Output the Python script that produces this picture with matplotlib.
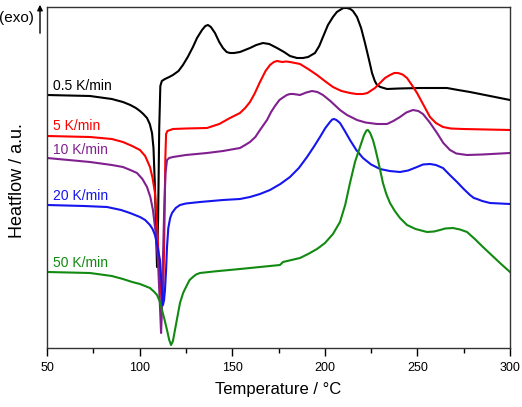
import matplotlib
matplotlib.use("Agg")
import matplotlib.pyplot as plt
import matplotlib.patches as mpatches

plt.rcParams['font.family'] = ['Liberation Sans', 'DejaVu Sans']

# Heat-flow curves (temperature in °C, heat flow in a.u.)
t_05 = [50, 73.2, 85, 91, 95, 98, 100.2, 102, 104, 105.5, 106.7, 107.5, 108.3, 109, 109.4, 110, 110.6,
        111.2, 112, 113.7, 116, 118, 121, 123.4, 126, 128.8, 131, 133.7, 135.5, 136.9, 138.5, 140.7,
        143, 145, 147, 148.8, 151, 154.2, 159.6, 163, 166.6, 170, 174.2, 178, 181.2, 185, 188.2, 191,
        194.7, 197, 199, 201.7, 204.4, 206.5, 208.2, 210, 212, 213.8, 215.2, 217.4, 219.6, 221.7,
        223.9, 225.5, 227, 228.2, 230, 233.6, 240, 251.4, 260, 266, 272, 278.4, 289.2, 300]
hf_05 = [253, 252, 249, 246, 243, 240, 237, 234, 230, 224, 215, 200, 160, 110, 81, 130, 220,
         262, 267, 269, 271, 273, 277, 283, 291, 301, 310, 318, 322, 323, 321, 315,
         306, 300, 296, 295, 295, 296, 300, 303, 305, 304, 300, 296, 292, 290, 290, 291,
         295, 302, 311, 323, 331, 336, 338, 340, 340, 339, 337, 331, 320, 305,
         288, 275, 267, 263, 261, 259, 259.5, 260, 260, 260, 258, 256, 252, 248]

t_5 = [50, 73.2, 85, 91, 96, 100.2, 103, 105.6, 107, 108.3, 109.2, 109.9, 111, 112.1, 112.8, 113.4,
       113.9, 114.3, 115, 118, 125, 136.4, 143, 148.8, 154.2, 157, 159.6, 162, 165, 168, 170.4, 172.5,
       174.2, 177, 179, 181.2, 184, 186.6, 191, 195.8, 200, 204.4, 209, 213.6, 217, 220.6, 223, 227.1,
       229.8, 232.5, 235.2, 237.5, 239.5, 242, 244.4, 247, 249.8, 253, 256.8, 260, 263.8, 268, 274.6, 300]
hf_5 = [212, 211, 209, 206, 202, 198, 192, 181, 170, 155, 130, 105, 70, 41, 60, 120,
        190, 214, 217, 219, 219.5, 220, 224, 230, 235, 240, 246, 254, 266, 277, 283, 286,
        287, 286, 286.5, 286, 285, 284, 279, 273, 267, 261, 257, 255, 254, 254, 255, 260,
        265, 270, 273, 275, 275, 273.5, 270, 263, 255, 244, 231, 225, 221, 219.5, 219, 218]

t_10 = [50, 73.2, 85, 91, 95, 98.6, 101.5, 104, 105.8, 107.2, 108.7, 109.9, 110.8, 111.6, 112.1, 112.6,
        113.3, 114, 114.8, 116, 118, 125, 136.4, 145, 154.2, 157, 159.6, 162.5, 165, 168.8, 171, 173.1,
        175.5, 177.4, 179.5, 181.2, 183, 186.6, 190, 193.1, 196, 199, 203, 208.2, 212, 217.4, 222,
        228.2, 233.6, 237, 240.6, 244, 247.6, 250.5, 253, 256.5, 260.6, 264, 267.6, 271, 276.8, 285, 300]
hf_10 = [190, 186, 183, 181, 178, 175, 169, 161, 151, 138, 115, 88, 50, 15, 40, 88,
         140, 175, 188, 190, 191, 193, 195, 197, 200, 203, 206, 211, 218, 228, 236, 242,
         248, 250.5, 253, 254, 254, 253, 255.5, 257, 256, 253, 247, 238, 233, 228, 225.5,
         224, 224, 227, 231, 235.5, 238, 237, 234, 226, 215, 205, 198, 194.5, 193, 193.5, 195]

t_20 = [50, 70, 82.4, 90, 94.8, 100.2, 103, 105.6, 107, 108.3, 109.8, 111, 112, 112.6, 113.2, 113.7,
        114.3, 114.8, 115.5, 116.5, 117.5, 119.5, 121.8, 125, 132.6, 145, 154.2, 159.6, 165, 170.4,
        176, 181.2, 186, 190.4, 194, 197.4, 200.3, 202.8, 204, 205, 206.3, 208.2, 210.5, 213.6, 217,
        220.6, 225, 229.8, 235, 240.6, 245, 249.8, 253, 256.8, 260, 263.8, 267.5, 271.4, 275, 278.4,
        280.5, 282.2, 285, 289.2, 300]
hf_20 = [143, 142, 141, 138, 135, 131, 128, 123, 119, 113, 100, 88, 60, 43, 48, 58,
         78, 101, 120, 130, 135, 140, 143, 144.5, 146, 148, 149, 151, 154, 158,
         164, 171, 180, 191, 201, 211, 220, 226, 228.5, 229, 228, 225, 218, 208, 198,
         190, 183.5, 179, 177, 176, 177.5, 181, 183.5, 184, 183, 180, 173, 166, 159, 153,
         150, 149, 147, 145, 144]

t_50 = [50, 73.2, 85, 91, 96, 100.2, 105.6, 108, 109.4, 110.8, 112.1, 113.5, 114.8, 116, 117, 118,
        119.1, 120.5, 121.8, 123.5, 125.6, 127, 128.8, 130.5, 132.6, 140, 154.2, 165, 175.8, 177.4,
        182, 186.6, 191, 195.8, 200.1, 204.4, 208.2, 211, 213.6, 216.3, 219, 221.2, 222.5, 223.3,
        224.5, 226, 227.3, 228.7, 230, 231.4, 233.2, 235.2, 237.8, 240.6, 244.4, 249, 255.2, 259,
        262.2, 265, 269.2, 273, 276.8, 281, 285.4, 290, 294.6, 300]
hf_50 = [76, 75, 72, 69, 66, 64, 60, 56, 53, 47, 38, 28, 18, 8, 3, 7,
         18, 32, 45, 55, 63, 68, 71, 73.5, 75, 76.5, 79, 81, 83, 86,
         88, 90, 94, 99, 105, 114, 126, 143, 165, 186, 201, 213, 217.5, 218,
         215, 208, 199, 188, 177, 165, 154, 145, 137, 130, 123, 119, 116, 116.5,
         118, 119.5, 120, 118.5, 116, 109, 101, 93, 85, 76]

labels = ['0.5 K/min', '5 K/min', '10 K/min', '20 K/min', '50 K/min']
label_y = [262, 222, 198, 152, 85]
colors = ['black', 'red', '#80208f', '#1515ee', '#128a12']
temps = [t_05, t_5, t_10, t_20, t_50]
flows = [hf_05, hf_5, hf_10, hf_20, hf_50]

fig = plt.figure(figsize=(5.22, 4.07), dpi=100)
ax = fig.add_axes([47/522, 1-348/407, 463/522, 341/407])

for t, hf, c, lab, ly in zip(temps, flows, colors, labels, label_y):
    ax.plot(t, hf, color=c, lw=1.5, solid_joinstyle='round')
    ax.text(53.2, ly, lab, color=c, fontsize=10, va='center', ha='left')

ax.set_xlim(50, 300)
ax.set_ylim(0, 341)
ax.set_xticks([50, 100, 150, 200, 250, 300])
ax.set_xticks([75, 125, 175, 225, 275], minor=True)
ax.set_yticks([])
ax.tick_params(axis='x', which='major', length=6, width=1, labelsize=9, pad=4)
ax.tick_params(axis='x', which='minor', length=3.5, width=1)
for s in ax.spines.values():
    s.set_linewidth(1)
    s.set_color('#333333')
ax.set_xlabel('Temperature / °C', fontsize=12, labelpad=6)

fig.text(18/522, 1-181/407, 'Heatflow / a.u.', rotation=90, fontsize=13,
         ha='center', va='center')
fig.text(-1/522, 1-18/407, '(exo)', fontsize=11, ha='left', va='center')
fig.patches.append(mpatches.FancyArrowPatch(
    (40/522, 1-36/407), (40/522, 1-2/407), transform=fig.transFigure,
    arrowstyle='-|>', mutation_scale=8, lw=1, color='black'))

fig.savefig('out.png', dpi=100)
